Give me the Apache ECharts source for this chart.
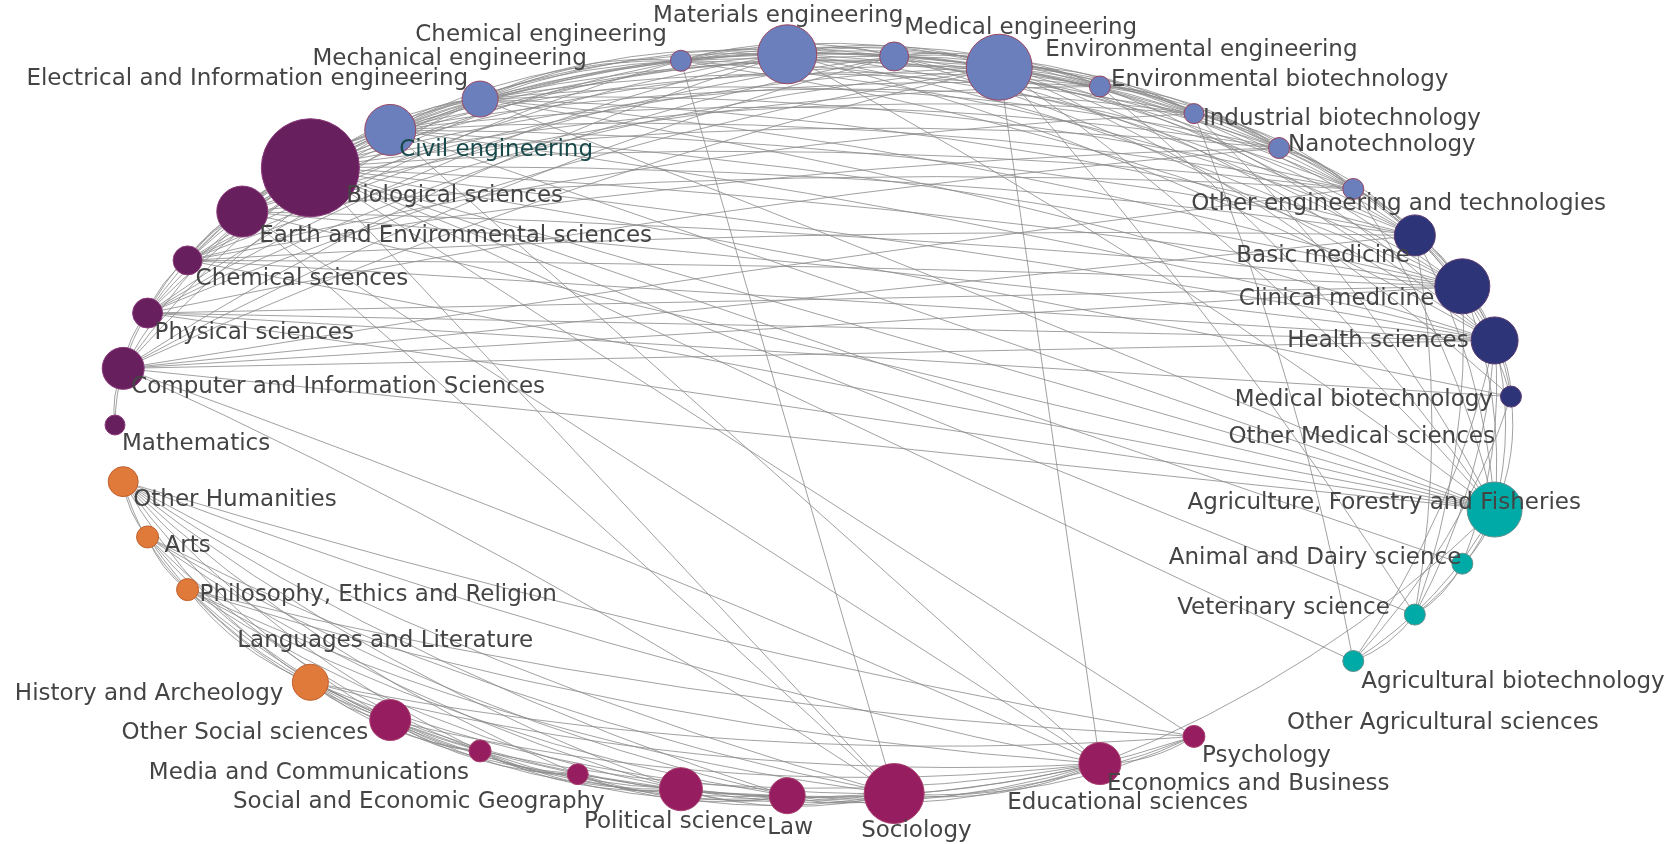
<!DOCTYPE html>
<html>
<head>
<meta charset="utf-8">
<script src="https://cdn.jsdelivr.net/npm/echarts@6/dist/echarts.min.js"></script>
<style>
html,body{margin:0;padding:0;background:#ffffff;}
#chart{width:1672px;height:844px;}
</style>
</head>
<body>
<div id="chart"></div>
<script>
// ---------------- data ----------------
const groups = ['Natural sciences', 'Engineering and technology', 'Medical and Health sciences',
  'Agricultural sciences', 'Social sciences', 'Humanities'];

const fields = [
  'Mathematics', 'Computer and Information Sciences', 'Physical sciences', 'Chemical sciences',
  'Earth and Environmental sciences', 'Biological sciences',
  'Civil engineering', 'Electrical and Information engineering', 'Mechanical engineering',
  'Chemical engineering', 'Materials engineering', 'Medical engineering', 'Environmental engineering',
  'Environmental biotechnology', 'Industrial biotechnology', 'Nanotechnology', 'Other engineering and technologies',
  'Basic medicine', 'Clinical medicine', 'Health sciences', 'Medical biotechnology', 'Other Medical sciences',
  'Agriculture, Forestry and Fisheries', 'Animal and Dairy science', 'Veterinary science',
  'Agricultural biotechnology', 'Other Agricultural sciences',
  'Psychology', 'Economics and Business', 'Educational sciences', 'Sociology', 'Law', 'Political science',
  'Social and Economic Geography', 'Media and Communications', 'Other Social sciences',
  'History and Archeology', 'Languages and Literature', 'Philosophy, Ethics and Religion', 'Arts', 'Other Humanities'
];

const fieldGroup = [
  0, 0, 0, 0, 0, 0,
  1, 1, 1, 1, 1, 1, 1, 1, 1, 1, 1,
  2, 2, 2, 2, 2,
  3, 3, 3, 3, 3,
  4, 4, 4, 4, 4, 4, 4, 4, 4,
  5, 5, 5, 5, 5
];

// node weight (drawn as circle diameter)
const fieldWeight = [
  20, 42, 30, 29, 51, 98,
  51, 36, 0, 21, 59, 29, 66, 21, 20, 21, 21,
  41, 55, 47, 21, 0,
  55, 21, 21, 21, 0,
  22, 42, 0, 60, 36, 43, 21, 22, 41,
  36, 0, 22, 22, 30
];

// co-occurrence links: [field, [connected fields]]
const linkList = [
  ['Mathematics', ['Computer and Information Sciences', 'Physical sciences']],
  ['Computer and Information Sciences', ['Physical sciences', 'Biological sciences', 'Civil engineering',
    'Electrical and Information engineering', 'Materials engineering', 'Medical engineering',
    'Environmental engineering', 'Other engineering and technologies', 'Basic medicine', 'Clinical medicine',
    'Health sciences', 'Agriculture, Forestry and Fisheries', 'Sociology', 'Economics and Business']],
  ['Physical sciences', ['Chemical sciences', 'Earth and Environmental sciences', 'Biological sciences',
    'Civil engineering', 'Electrical and Information engineering', 'Chemical engineering', 'Materials engineering',
    'Medical engineering', 'Environmental engineering', 'Nanotechnology', 'Clinical medicine', 'Health sciences',
    'Medical biotechnology', 'Agriculture, Forestry and Fisheries']],
  ['Chemical sciences', ['Earth and Environmental sciences', 'Biological sciences', 'Civil engineering',
    'Electrical and Information engineering', 'Chemical engineering', 'Materials engineering', 'Medical engineering',
    'Environmental engineering', 'Industrial biotechnology', 'Nanotechnology', 'Basic medicine',
    'Clinical medicine', 'Health sciences', 'Agriculture, Forestry and Fisheries']],
  ['Earth and Environmental sciences', ['Biological sciences', 'Civil engineering',
    'Electrical and Information engineering', 'Chemical engineering', 'Materials engineering',
    'Environmental engineering', 'Environmental biotechnology', 'Other engineering and technologies',
    'Clinical medicine', 'Health sciences', 'Agriculture, Forestry and Fisheries', 'Economics and Business', 'Sociology']],
  ['Biological sciences', ['Civil engineering', 'Electrical and Information engineering', 'Chemical engineering',
    'Materials engineering', 'Medical engineering', 'Environmental engineering', 'Environmental biotechnology',
    'Industrial biotechnology', 'Nanotechnology', 'Other engineering and technologies', 'Basic medicine',
    'Clinical medicine', 'Health sciences', 'Medical biotechnology', 'Agriculture, Forestry and Fisheries',
    'Animal and Dairy science', 'Veterinary science', 'Agricultural biotechnology', 'Sociology', 'Psychology']],
  ['Civil engineering', ['Electrical and Information engineering', 'Chemical engineering', 'Materials engineering',
    'Medical engineering', 'Environmental engineering', 'Environmental biotechnology', 'Industrial biotechnology',
    'Nanotechnology', 'Other engineering and technologies', 'Basic medicine', 'Clinical medicine',
    'Health sciences', 'Agriculture, Forestry and Fisheries', 'Economics and Business']],
  ['Electrical and Information engineering', ['Chemical engineering', 'Materials engineering', 'Medical engineering',
    'Environmental engineering', 'Environmental biotechnology', 'Industrial biotechnology', 'Nanotechnology',
    'Other engineering and technologies', 'Basic medicine', 'Clinical medicine', 'Health sciences',
    'Agriculture, Forestry and Fisheries']],
  ['Chemical engineering', ['Materials engineering', 'Medical engineering', 'Environmental engineering',
    'Environmental biotechnology', 'Industrial biotechnology', 'Nanotechnology', 'Other engineering and technologies',
    'Basic medicine', 'Clinical medicine', 'Sociology']],
  ['Materials engineering', ['Medical engineering', 'Environmental engineering', 'Environmental biotechnology',
    'Industrial biotechnology', 'Nanotechnology', 'Other engineering and technologies', 'Basic medicine',
    'Clinical medicine', 'Health sciences', 'Agriculture, Forestry and Fisheries']],
  ['Medical engineering', ['Environmental engineering', 'Environmental biotechnology', 'Industrial biotechnology',
    'Nanotechnology', 'Other engineering and technologies', 'Basic medicine', 'Clinical medicine', 'Health sciences']],
  ['Environmental engineering', ['Environmental biotechnology', 'Industrial biotechnology', 'Nanotechnology',
    'Other engineering and technologies', 'Basic medicine', 'Clinical medicine', 'Health sciences',
    'Medical biotechnology', 'Agriculture, Forestry and Fisheries', 'Veterinary science', 'Economics and Business']],
  ['Environmental biotechnology', ['Industrial biotechnology', 'Nanotechnology', 'Other engineering and technologies',
    'Health sciences', 'Agriculture, Forestry and Fisheries']],
  ['Industrial biotechnology', ['Nanotechnology', 'Other engineering and technologies', 'Basic medicine',
    'Agriculture, Forestry and Fisheries', 'Agricultural biotechnology']],
  ['Nanotechnology', ['Other engineering and technologies', 'Basic medicine', 'Clinical medicine']],
  ['Other engineering and technologies', ['Basic medicine', 'Clinical medicine', 'Health sciences',
    'Agriculture, Forestry and Fisheries']],
  ['Basic medicine', ['Clinical medicine', 'Health sciences', 'Medical biotechnology',
    'Agriculture, Forestry and Fisheries', 'Veterinary science']],
  ['Clinical medicine', ['Health sciences', 'Medical biotechnology', 'Agriculture, Forestry and Fisheries',
    'Veterinary science']],
  ['Health sciences', ['Medical biotechnology', 'Agriculture, Forestry and Fisheries', 'Animal and Dairy science',
    'Veterinary science', 'Agricultural biotechnology']],
  ['Medical biotechnology', ['Agriculture, Forestry and Fisheries', 'Agricultural biotechnology']],
  ['Agriculture, Forestry and Fisheries', ['Animal and Dairy science', 'Veterinary science',
    'Agricultural biotechnology', 'Economics and Business']],
  ['Animal and Dairy science', ['Veterinary science']],
  ['Veterinary science', ['Agricultural biotechnology']],
  ['Psychology', ['Economics and Business', 'Sociology', 'Law', 'Political science', 'History and Archeology',
    'Philosophy, Ethics and Religion', 'Other Humanities']],
  ['Economics and Business', ['Sociology', 'Law', 'Political science', 'Social and Economic Geography',
    'Media and Communications', 'Other Social sciences', 'History and Archeology',
    'Philosophy, Ethics and Religion', 'Other Humanities']],
  ['Sociology', ['Law', 'Political science', 'Social and Economic Geography', 'Media and Communications',
    'Other Social sciences', 'History and Archeology', 'Philosophy, Ethics and Religion', 'Arts', 'Other Humanities']],
  ['Law', ['Political science', 'Social and Economic Geography', 'Media and Communications', 'Other Social sciences',
    'History and Archeology', 'Philosophy, Ethics and Religion', 'Arts', 'Other Humanities']],
  ['Political science', ['Social and Economic Geography', 'Media and Communications', 'Other Social sciences',
    'History and Archeology', 'Philosophy, Ethics and Religion', 'Arts', 'Other Humanities']],
  ['Social and Economic Geography', ['Media and Communications', 'Other Social sciences', 'History and Archeology',
    'Other Humanities']],
  ['Media and Communications', ['Other Social sciences', 'History and Archeology', 'Philosophy, Ethics and Religion',
    'Arts', 'Other Humanities']],
  ['Other Social sciences', ['History and Archeology', 'Philosophy, Ethics and Religion', 'Arts', 'Other Humanities']],
  ['History and Archeology', ['Philosophy, Ethics and Religion', 'Arts', 'Other Humanities']],
  ['Philosophy, Ethics and Religion', ['Arts', 'Other Humanities']],
  ['Arts', ['Other Humanities']]
];

// ---------------- styles ----------------
const groupColors = ['#681f5e', '#6b7fbd', '#2d3477', '#00aaa6', '#961d5f', '#e07a3a'];
const groupBorders = ['#8a3a7a', '#9a4560', '#5a3a70', '#5f8f8c', '#a84070', '#c0602e'];

// label anchor relative to node centre: [align, dx, dy]
const labelPlacement = {
  'Mathematics': ['left', 7, 19], 'Computer and Information Sciences': ['left', 8, 19],
  'Physical sciences': ['left', 7, 20], 'Chemical sciences': ['left', 8, 19],
  'Earth and Environmental sciences': ['left', 17, 24], 'Biological sciences': ['left', 36, 28],
  'Civil engineering': ['left', 9, 20], 'Electrical and Information engineering': ['right', -12, -20],
  'Mechanical engineering': ['right', 9, -17], 'Chemical engineering': ['right', -14, -26],
  'Materials engineering': ['center', -9, -38], 'Medical engineering': ['left', 10, -28],
  'Environmental engineering': ['left', 46, -17], 'Environmental biotechnology': ['left', 11, -6],
  'Industrial biotechnology': ['left', 9, 5], 'Nanotechnology': ['left', 9, -3],
  'Other engineering and technologies': ['left', -162, 15], 'Basic medicine': ['right', -5, 21],
  'Clinical medicine': ['right', -28, 13], 'Health sciences': ['right', -26, 1],
  'Medical biotechnology': ['right', -18, 3], 'Other Medical sciences': ['right', -16, -16],
  'Agriculture, Forestry and Fisheries': ['left', -307, -7], 'Animal and Dairy science': ['right', -1, -6],
  'Veterinary science': ['right', -25, -7], 'Agricultural biotechnology': ['left', 8, 21],
  'Other Agricultural sciences': ['left', 8, 21], 'Psychology': ['left', 8, 20],
  'Economics and Business': ['left', 7, 20], 'Educational sciences': ['left', 8, 20],
  'Sociology': ['left', -33, 37], 'Law': ['left', -20, 32], 'Political science': ['left', -97, 33],
  'Social and Economic Geography': ['right', 27, 28], 'Media and Communications': ['right', -11, 22],
  'Other Social sciences': ['right', -22, 13], 'History and Archeology': ['right', -27, 12],
  'Languages and Literature': ['left', -5, 3], 'Philosophy, Ethics and Religion': ['left', 12, 5],
  'Arts': ['left', 17, 9], 'Other Humanities': ['left', 10, 18]
};

// ---------------- circular layout (equal angular spacing, starting at the left) ----------------
const n = fields.length;
const nodes = fields.map(function (name, k) {
  const theta = Math.PI + k * 2 * Math.PI / n;
  const g = fieldGroup[k];
  const lp = labelPlacement[name];
  return {
    name: name,
    value: [Math.cos(theta), Math.sin(theta)],
    symbolSize: fieldWeight[k],
    category: g,
    itemStyle: { color: groupColors[g], borderColor: groupBorders[g], borderWidth: 1 },
    label: {
      show: true,
      position: 'inside',
      align: lp[0],
      verticalAlign: 'middle',
      offset: [lp[1], lp[2]],
      color: name === 'Civil engineering' ? '#17494a' : '#444444',
      fontFamily: 'DejaVu Sans',
      fontSize: 23,
      textBorderWidth: 0
    }
  };
});

const links = [];
linkList.forEach(function (row) {
  row[1].forEach(function (t) {
    const a = fields.indexOf(row[0]), b = fields.indexOf(t);
    const steps = Math.min(Math.abs(a - b), n - Math.abs(a - b));
    links.push({
      source: fields[Math.min(a, b)],
      target: fields[Math.max(a, b)],
      lineStyle: { curveness: Math.max(0, 0.16 - 0.01 * steps) }
    });
  });
});

const chart = echarts.init(document.getElementById('chart'));
chart.setOption({
  animation: false,
  backgroundColor: '#ffffff',
  grid: { left: 115, right: 159, top: 54, bottom: 48 },
  xAxis: { type: 'value', min: -1, max: 1, show: false },
  yAxis: { type: 'value', min: -1, max: 1, inverse: true, show: false },
  series: [{
    type: 'graph',
    coordinateSystem: 'cartesian2d',
    layout: 'none',
    categories: groups.map(function (g) { return { name: g }; }),
    data: nodes,
    links: links,
    symbol: 'circle',
    lineStyle: { color: '#8a8a8a', width: 1, opacity: 0.8 },
    emphasis: { disabled: true }
  }]
});
</script>
</body>
</html>
